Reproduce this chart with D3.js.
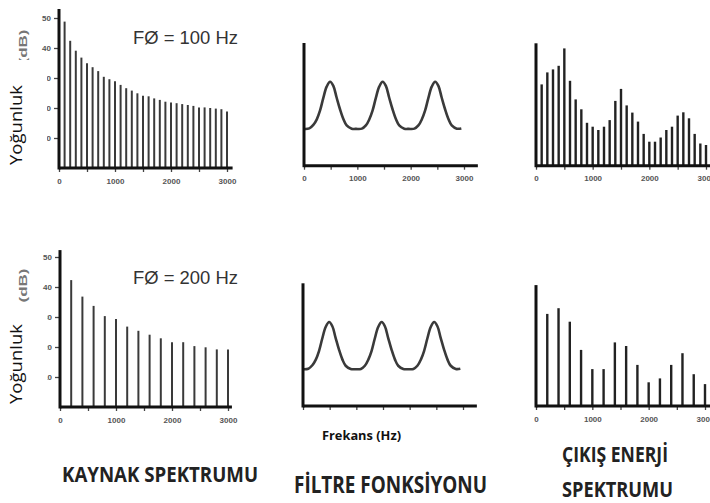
<!DOCTYPE html>
<html>
<head>
<meta charset="utf-8">
<script src="https://cdn.jsdelivr.net/npm/d3@7"></script>
<style>
  body { margin: 0; background: #fff; }
  svg { display: block; }
</style>
</head>
<body>
<div id="chart"></div>
<script>
// Source / filter / output spectra (dB)

// harmonic frequencies (Hz)
const harm100 = [100, 200, 300, 400, 500, 600, 700, 800, 900, 1000,
                 1100, 1200, 1300, 1400, 1500, 1600, 1700, 1800, 1900, 2000,
                 2100, 2200, 2300, 2400, 2500, 2600, 2700, 2800, 2900, 3000];
const harm200 = [200, 400, 600, 800, 1000, 1200, 1400, 1600, 1800, 2000,
                 2200, 2400, 2600, 2800, 3000];

// source spectrum levels
const source100 = [48.8, 42.4, 39.1, 36.8, 34.9, 33.6, 32.3, 30.4, 29.6, 28.9,
                   27.7, 26.6, 25.8, 24.9, 24.1, 23.9, 23.2, 22.7, 22.1, 21.8,
                   21.6, 21.3, 21.0, 20.7, 20.2, 20.2, 20.0, 19.8, 19.6, 18.8];
const source200 = [42.3, 36.8, 33.7, 30.3, 29.3, 26.8, 25.4, 24.1, 22.9, 21.6,
                   21.6, 20.3, 19.9, 19.2, 19.2];

// filter (vocal tract) curve points
const filterHz = [0, 100, 175, 240, 300, 360, 425, 490, 550, 610, 675, 740, 800, 895, 980,
                  1085, 1160, 1225, 1285, 1345, 1410, 1475, 1535, 1595, 1660, 1725, 1785, 1880, 1965,
                  2070, 2145, 2210, 2270, 2330, 2395, 2460, 2520, 2580, 2645, 2710, 2770, 2865, 2950];
const filterLevel = [15.0, 15.2, 16.6, 18.9, 22.4, 27.4, 32.2, 34.2, 32.5, 27.9, 23.0, 18.9, 16.4, 15.1, 15.0,
                     15.1, 16.4, 18.9, 22.4, 27.4, 32.2, 34.2, 32.5, 27.9, 23.0, 18.9, 16.4, 15.1, 15.0,
                     15.1, 16.4, 18.9, 22.4, 27.4, 32.2, 34.2, 32.5, 27.9, 23.0, 18.9, 16.4, 15.1, 15.2];

// output spectrum levels
const output100 = [27.1, 31.1, 32.1, 33.3, 39.1, 28.3, 22.1, 18.8, 14.3, 13.0,
                   11.9, 13.0, 15.2, 21.6, 25.6, 20.1, 17.7, 14.7, 10.6, 8.0,
                   8.0, 9.4, 11.9, 13.0, 16.7, 17.8, 15.8, 10.6, 7.4, 6.9];
const output200 = [30.7, 32.6, 28.1, 18.7, 12.3, 12.3, 21.2, 20.0, 13.7, 7.9,
                   9.2, 13.7, 17.6, 10.6, 7.3];

// ticks
const xTickValues = [0, 500, 1000, 1500, 2000, 2500, 3000];
const xTickLabels = ['0', '1000', '2000', '3000'];
const yTickValues = [10, 20, 30, 40, 50];

const svg = d3.select('#chart').append('svg')
    .attr('width', 710)
    .attr('height', 503);

// panel layout (pixels)
const panels = [
    {x0: 59, x3000: 227, base: 168, ppu: 3, axisTop: 53, axisEnd: 3100,
     hz: harm100, levels: source100, barW: 2, barColor: '#3a3a3a', yTicks: true, xLabels: true},
    {x0: 60, x3000: 228, base: 407, ppu: 3, axisTop: 52.3, axisEnd: 3070,
     hz: harm200, levels: source200, barW: 2, barColor: '#3a3a3a', yTicks: true, xLabels: true},
    {x0: 304, x3000: 464, base: 165.7, ppu: 2.454, axisTop: 50, axisEnd: 3260,
     curve: true, xLabels: true},
    {x0: 303, x3000: 463, base: 406, ppu: 2.454, axisTop: 50, axisEnd: 3260,
     curve: true, xLabels: false},
    {x0: 536, x3000: 706, base: 165.7, ppu: 3, axisTop: 40.8, axisEnd: 3300,
     hz: harm100, levels: output100, barW: 2.4, barColor: '#222', xLabels: true},
    {x0: 536, x3000: 705, base: 406, ppu: 3, axisTop: 40.3, axisEnd: 3300,
     hz: harm200, levels: output200, barW: 2.4, barColor: '#222', xLabels: true}
];

panels.forEach(p => {
    const x = d3.scaleLinear().domain([0, 3000]).range([p.x0, p.x3000]);
    const y = d3.scaleLinear().domain([0, 50]).range([p.base, p.base - 50 * p.ppu]);
    const g = svg.append('g');

    // x ticks
    const xa = g.append('g')
        .attr('transform', `translate(0,${p.base})`)
        .call(d3.axisBottom(x)
            .tickValues(xTickValues)
            .tickSize(4)
            .tickPadding(6)
            .tickFormat(d => (p.xLabels && d % 1000 === 0) ? xTickLabels[d / 1000] : ''));
    xa.select('.domain').remove();
    xa.selectAll('line').attr('stroke', '#444').attr('stroke-width', 1.3);
    xa.selectAll('text')
        .attr('fill', '#555')
        .style('font-family', 'Liberation Sans, Arial, sans-serif')
        .style('font-size', '8px')
        .style('font-weight', 'bold');

    // y ticks (source panels only)
    if (p.yTicks) {
        const ya = g.append('g')
            .attr('transform', `translate(${p.x0 - 1},0)`)
            .call(d3.axisLeft(y).tickValues(yTickValues).tickSize(4).tickPadding(3));
        ya.select('.domain').remove();
        ya.selectAll('line').attr('stroke', '#444').attr('stroke-width', 1.3);
        ya.selectAll('text')
            .attr('fill', '#555')
            .style('font-family', 'Liberation Sans, Arial, sans-serif')
            .style('font-size', '8px')
            .style('font-weight', 'bold');
    }

    // bars
    if (p.hz) {
        g.selectAll('.bar')
            .data(p.hz.map((h, i) => ({hz: h, v: p.levels[i]})))
            .enter()
            .append('line')
            .attr('class', 'bar')
            .attr('x1', d => x(d.hz))
            .attr('x2', d => x(d.hz))
            .attr('y1', y(0))
            .attr('y2', d => y(d.v))
            .attr('stroke', p.barColor)
            .attr('stroke-width', p.barW);
    }

    // filter curve
    if (p.curve) {
        const line = d3.line()
            .x(d => x(d[0]))
            .y(d => y(d[1]))
            .curve(d3.curveCatmullRom);
        g.append('path')
            .datum(filterHz.map((h, i) => [h, filterLevel[i]]))
            .attr('d', line)
            .attr('fill', 'none')
            .attr('stroke', '#3a3a3a')
            .attr('stroke-width', 2.6);
    }

    // axis lines
    g.append('line')
        .attr('x1', x(0)).attr('x2', x(p.axisEnd))
        .attr('y1', y(0)).attr('y2', y(0))
        .attr('stroke', '#111').attr('stroke-width', 3);
    g.append('line')
        .attr('x1', x(0)).attr('x2', x(0))
        .attr('y1', y(0) + 1.5).attr('y2', y(p.axisTop))
        .attr('stroke', '#111').attr('stroke-width', 3);
});

// fundamental labels
[['FØ = 100 Hz', 44], ['FØ = 200 Hz', 284]].forEach(([t, yb]) => {
    svg.append('text')
        .attr('x', 133).attr('y', yb)
        .attr('textLength', 105)
        .attr('lengthAdjust', 'spacingAndGlyphs')
        .attr('fill', '#333')
        .style('font-family', 'Liberation Sans, Arial, sans-serif')
        .style('font-size', '19px')
        .text(t);
});

// (dB) unit labels
[46.5, 285.5].forEach(cy => {
    svg.append('text')
        .attr('transform', `translate(27,${cy}) rotate(-90)`)
        .attr('text-anchor', 'middle')
        .attr('textLength', 34)
        .attr('lengthAdjust', 'spacingAndGlyphs')
        .attr('fill', '#777')
        .style('font-family', 'Liberation Sans, Arial, sans-serif')
        .style('font-size', '11px')
        .style('font-weight', 'bold')
        .text('(dB)');
});

// white boxes behind the "Yoğunluk" labels
[[60, 112], [311, 99]].forEach(([top, h]) => {
    svg.append('rect')
        .attr('x', 0).attr('y', top)
        .attr('width', 47).attr('height', h)
        .attr('fill', '#fff');
});

[125, 364].forEach(cy => {
    svg.append('text')
        .attr('transform', `translate(22,${cy}) rotate(-90)`)
        .attr('text-anchor', 'middle')
        .attr('textLength', 80)
        .attr('lengthAdjust', 'spacingAndGlyphs')
        .attr('fill', '#111')
        .style('font-family', 'Open Sans, sans-serif')
        .style('font-size', '16px')
        .text('Yoğunluk');
});

// frequency axis label
svg.append('text')
    .attr('x', 322).attr('y', 440)
    .attr('textLength', 79)
    .attr('lengthAdjust', 'spacingAndGlyphs')
    .attr('fill', '#111')
    .style('font-family', 'Open Sans, sans-serif')
    .style('font-size', '12px')
    .style('font-weight', 'bold')
    .text('Frekans (Hz)');

// panel titles
const titles = [
    {t: 'KAYNAK SPEKTRUMU', x: 62, y: 482, len: 196, size: 22},
    {t: 'FİLTRE FONKSİYONU', x: 294, y: 493, len: 193, size: 23},
    {t: 'ÇIKIŞ ENERJİ', x: 562, y: 462, len: 106, size: 21},
    {t: 'SPEKTRUMU', x: 562, y: 497, len: 111, size: 21}
];
titles.forEach(d => {
    svg.append('text')
        .attr('x', d.x).attr('y', d.y)
        .attr('textLength', d.len)
        .attr('lengthAdjust', 'spacingAndGlyphs')
        .attr('fill', '#222')
        .style('font-family', 'Open Sans, sans-serif')
        .style('font-size', d.size + 'px')
        .style('font-weight', 'bold')
        .text(d.t);
});
</script>
</body>
</html>
